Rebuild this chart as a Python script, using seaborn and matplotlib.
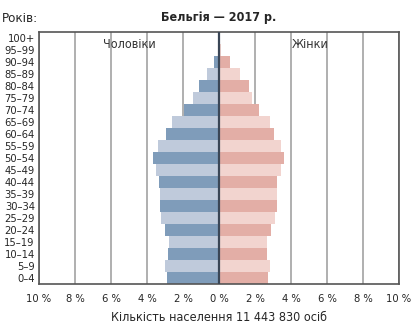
import matplotlib
matplotlib.use("Agg")
import matplotlib.pyplot as plt
import seaborn as sns
import pandas as pd

ages = ["0–4", "5–9", "10–14", "15–19", "20–24", "25–29", "30–34", "35–39",
        "40–44", "45–49", "50–54", "55–59", "60–64", "65–69", "70–74",
        "75–79", "80–84", "85–89", "90–94", "95–99", "100+"]
male = [2.89, 3.00, 2.83, 2.78, 3.00, 3.22, 3.28, 3.28, 3.33, 3.50, 3.67,
        3.39, 2.94, 2.61, 1.96, 1.44, 1.11, 0.67, 0.28, 0.05, 0.02]
female = [2.72, 2.83, 2.67, 2.67, 2.89, 3.11, 3.22, 3.22, 3.22, 3.44, 3.61,
          3.44, 3.06, 2.83, 2.22, 1.83, 1.67, 1.17, 0.61, 0.12, 0.03]
xticks = [-10, -8, -6, -4, -2, 0, 2, 4, 6, 8, 10]
xticklabels = ["10 %", "8 %", "6 %", "4 %", "2 %", "0 %", "2 %", "4 %", "6 %", "8 %", "10 %"]
title = "Бельгія — 2017 р."
xlabel = "Кількість населення 11 443 830 осіб"

sns.set_style("white")
plt.rcParams["font.family"] = ["DejaVu Sans"]
plt.rcParams["font.stretch"] = "condensed"

df = pd.DataFrame({"age": ages, "male": [-v for v in male], "female": female})
order = ages[::-1]

m_dark, m_light = "#7f9cba", "#bfcadb"
f_dark, f_light = "#e3aea6", "#f2d4cf"
m_pal = {a: (m_dark if i % 2 == 0 else m_light) for i, a in enumerate(ages)}
f_pal = {a: (f_dark if i % 2 == 0 else f_light) for i, a in enumerate(ages)}

fig = plt.figure(figsize=(4.13, 3.23), dpi=100)
ax = fig.add_axes([39/413, 39/323, 360/413, 252/323])

for x in xticks:
    if x != 0:
        ax.axvline(x, color="#9a9a9a", lw=1.1, zorder=0)

sns.barplot(data=df, x="male", y="age", hue="age", order=order, palette=m_pal,
            saturation=1, width=0.92, legend=False, ax=ax, orient="h",
            zorder=2, linewidth=0)
sns.barplot(data=df, x="female", y="age", hue="age", order=order, palette=f_pal,
            saturation=1, width=0.92, legend=False, ax=ax, orient="h",
            zorder=2, linewidth=0)
ax.axvline(0, color="#3a4656", lw=1.6, zorder=3)

ax.set_xlim(-10, 10)
ax.set_ylim(len(ages) - 0.5, -0.5)
ax.set_xticks(xticks)
ax.set_xticklabels(xticklabels, fontsize=8)
ax.tick_params(axis="x", direction="out", length=5, width=1, color="#555555", pad=2)
ax.tick_params(axis="y", length=0, pad=3, labelsize=8)
for s in ax.spines.values():
    s.set_color("#555555")
    s.set_linewidth(1.2)
ax.set_ylabel("")
ax.set_xlabel(xlabel, fontsize=9, labelpad=5)

fig.text(2/413, 1 - 18/323, "Років:", fontsize=9.5, ha="left", va="center")
fig.text(219/413, 1 - 18/323, title, fontsize=9, fontweight="bold", ha="center", va="center")
ax.text(-4.97, 0.58, "Чоловіки", fontsize=9, ha="center", va="center", color="#333333")
ax.text(5.06, 0.58, "Жінки", fontsize=9, ha="center", va="center", color="#333333")

fig.savefig("out.png", dpi=100)
